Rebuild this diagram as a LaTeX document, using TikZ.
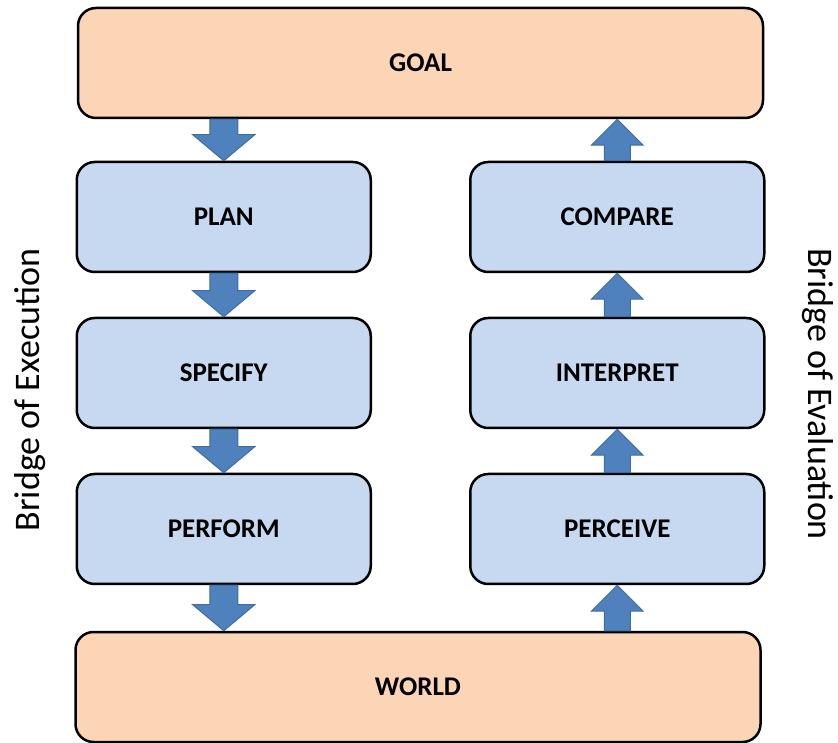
\documentclass[tikz,border=0pt]{standalone}
\usepackage{fontspec}
\setmainfont{Carlito}
\usetikzlibrary{calc,positioning}
\definecolor{peach}{HTML}{FBD5B5}
\definecolor{paleblue}{HTML}{C6D9F1}
\definecolor{arrowblue}{HTML}{4F81BD}
\definecolor{arrowedge}{HTML}{3E6DA6}
\tikzset{
  stage/.style={rounded corners=18pt,draw,line width=2.5pt,fill=paleblue,
    minimum width=294pt,minimum height=110pt,inner sep=0pt,
    font=\fontsize{27}{31}\selectfont\bfseries},
  world/.style={stage,fill=peach,minimum width=685pt},
  bridge/.style={font=\fontsize{36}{42}\selectfont,inner sep=0pt},
  fat/.style n args={2}{draw=arrowedge,fill=arrowblue,line width=1pt,
    to path={($(\tikztostart)+(-#1,0)$) -- ($(\tikztotarget)!26pt!(\tikztostart)+(-#1,0)$)
      -- ($(\tikztotarget)!26pt!(\tikztostart)+(-#2,0)$) -- (\tikztotarget)
      -- ($(\tikztotarget)!26pt!(\tikztostart)+(#2,0)$) -- ($(\tikztotarget)!26pt!(\tikztostart)+(#1,0)$)
      -- ($(\tikztostart)+(#1,0)$) -- cycle}}
}
\begin{document}
\begin{tikzpicture}[x=1pt,y=1pt]
\useasboundingbox (0,0) rectangle (838,742);
% top and bottom
\node (goal) [world] at (420.5,679) {GOAL};
% bridge of execution
\node (plan) [stage,below right=41.5pt and -1.25pt of goal.south west] {PLAN};
\node (specify) [stage,below=43.5pt of plan] {SPECIFY};
\node (perform) [stage,below=43.5pt of specify] {PERFORM};
% bridge of evaluation
\node (compare) [stage,below left=41.5pt and -1.25pt of goal.south east] {COMPARE};
\node (interpret) [stage,below=43.5pt of compare] {INTERPRET};
\node (perceive) [stage,below=43.5pt of interpret] {PERCEIVE};
\node (world) [world,below right=45.5pt and -1.25pt of perform.south west] {WORLD};
\node (exec) [bridge,rotate=90] at (30,352) {Bridge of Execution};
\node (eval) [bridge,rotate=-90] at (818,348) {Bridge of Evaluation};
% arrows
\draw [fat={14pt}{31pt}] (goal.south -| plan) to (plan.north);
\draw [fat={14pt}{31pt}] (plan.south) to (specify.north);
\draw [fat={14pt}{31pt}] (specify.south) to (perform.north);
\draw [fat={14pt}{31pt}] (perform.south) to (world.north -| perform);
\draw [fat={13pt}{26pt}] (world.north -| perceive) to (perceive.south);
\draw [fat={13pt}{26pt}] (perceive.north) to (interpret.south);
\draw [fat={13pt}{26pt}] (interpret.north) to (compare.south);
\draw [fat={13pt}{26pt}] (compare.north) to (goal.south -| compare);
\end{tikzpicture}
\end{document}
